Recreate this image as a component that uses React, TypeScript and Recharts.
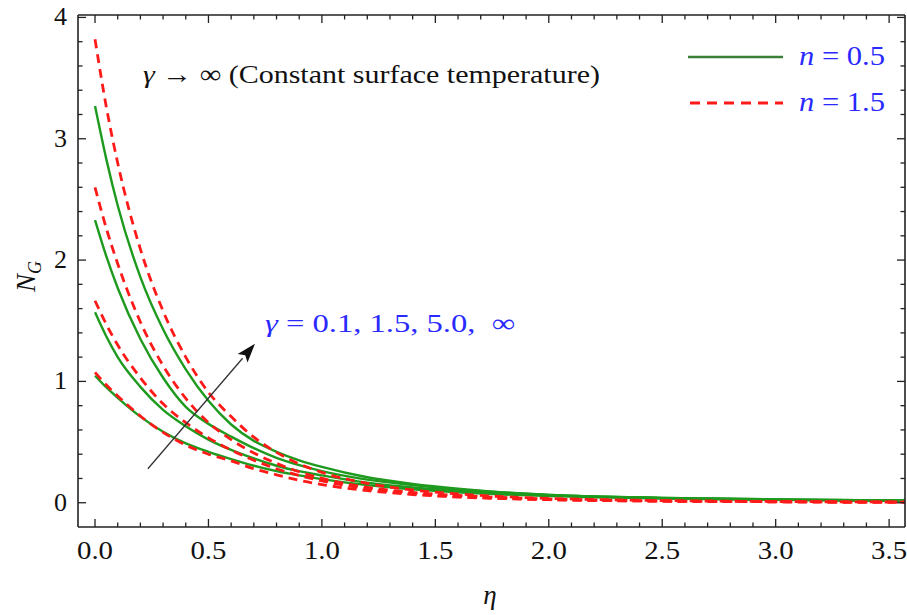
import React from 'react';
import { LineChart, Line, XAxis, YAxis, ReferenceLine } from 'recharts';

const W = 907;
const H = 615;
const FONT = '"Liberation Serif", "Times New Roman", serif';

// η grid
const eta = [0, 0.05, 0.1, 0.2, 0.3, 0.4, 0.5, 0.6, 0.7, 0.8, 0.9, 1.0, 1.2, 1.4, 1.6, 1.8, 2.0, 2.5, 3.0, 3.5, 3.6];

// n = 0.5 (green, solid)
const g01 = [1.047, 0.95, 0.865, 0.71, 0.585, 0.49, 0.42, 0.36, 0.305, 0.26, 0.225, 0.195, 0.145, 0.11, 0.085, 0.068, 0.055, 0.035, 0.024, 0.017, 0.016];
const g15 = [1.57, 1.37, 1.2, 0.955, 0.765, 0.63, 0.52, 0.435, 0.365, 0.305, 0.26, 0.225, 0.165, 0.125, 0.098, 0.078, 0.062, 0.038, 0.026, 0.018, 0.017];
const g50 = [2.33, 2.03, 1.77, 1.35, 1.03, 0.79, 0.65, 0.545, 0.45, 0.37, 0.31, 0.26, 0.19, 0.145, 0.11, 0.085, 0.065, 0.04, 0.027, 0.018, 0.017];
const gInf = [3.27, 2.83, 2.45, 1.86, 1.43, 1.1, 0.84, 0.645, 0.51, 0.42, 0.35, 0.295, 0.21, 0.155, 0.115, 0.085, 0.065, 0.04, 0.027, 0.018, 0.017];

// n = 1.5 (red, dashed)
const r01 = [1.074, 0.97, 0.88, 0.715, 0.58, 0.475, 0.4, 0.345, 0.28, 0.23, 0.185, 0.15, 0.1, 0.068, 0.047, 0.034, 0.025, 0.013, 0.008, 0.005, 0.005];
const r15 = [1.665, 1.47, 1.3, 1.03, 0.815, 0.66, 0.535, 0.435, 0.35, 0.28, 0.225, 0.18, 0.115, 0.075, 0.05, 0.036, 0.026, 0.013, 0.008, 0.005, 0.005];
const r50 = [2.6, 2.26, 1.97, 1.49, 1.13, 0.86, 0.66, 0.52, 0.41, 0.325, 0.255, 0.2, 0.127, 0.085, 0.06, 0.043, 0.031, 0.016, 0.009, 0.005, 0.005];
const rInf = [3.82, 3.26, 2.8, 2.09, 1.58, 1.2, 0.91, 0.71, 0.54, 0.415, 0.32, 0.25, 0.16, 0.105, 0.072, 0.05, 0.036, 0.018, 0.01, 0.006, 0.005];

const xTicks = [0, 0.1, 0.2, 0.3, 0.4, 0.5, 0.6, 0.7, 0.8, 0.9, 1.0, 1.1, 1.2, 1.3, 1.4, 1.5, 1.6, 1.7, 1.8, 1.9, 2.0, 2.1, 2.2, 2.3, 2.4, 2.5, 2.6, 2.7, 2.8, 2.9, 3.0, 3.1, 3.2, 3.3, 3.4, 3.5];
const yTicks = [0, 0.2, 0.4, 0.6, 0.8, 1, 1.2, 1.4, 1.6, 1.8, 2, 2.2, 2.4, 2.6, 2.8, 3, 3.2, 3.4, 3.6, 3.8, 4];

const data = eta.map((e, i) => ({
  eta: e,
  g01: g01[i], g15: g15[i], g50: g50[i], gInf: gInf[i],
  r01: r01[i], r15: r15[i], r50: r50[i], rInf: rInf[i],
}));

const GREEN = '#1e9a1e';
const GREEN_LEG = '#3a803a';
const RED = '#ff1a1a';
const BLUE = '#2a2aff';
const AX = '#222';

const isMajorX = (v: number) => Math.abs(v * 2 - Math.round(v * 2)) < 1e-6;
const isMajorY = (v: number) => Math.abs(v - Math.round(v)) < 1e-6;

const BottomTick = (p: any) => {
  const { x, y, payload } = p;
  const v = payload.value as number;
  const major = isMajorX(v);
  return (
    <g>
      <line x1={x} x2={x} y1={y} y2={y - (major ? 8 : 4.5)} stroke={AX} strokeWidth={1.3} />
      {major && (
        <text
          x={x - 18}
          y={y + 32}
          textLength={36}
          lengthAdjust="spacingAndGlyphs"
          fontFamily={FONT}
          fontSize={26}
          fill="#111"
        >
          {v.toFixed(1)}
        </text>
      )}
    </g>
  );
};

const TopTick = (p: any) => {
  const { x, y, payload } = p;
  const major = isMajorX(payload.value);
  return <line x1={x} x2={x} y1={y} y2={y + (major ? 8 : 4.5)} stroke={AX} strokeWidth={1.3} />;
};

const LeftTick = (p: any) => {
  const { x, y, payload } = p;
  const v = payload.value as number;
  const major = isMajorY(v);
  return (
    <g>
      <line x1={x} x2={x + (major ? 8 : 4.5)} y1={y} y2={y} stroke={AX} strokeWidth={1.3} />
      {major && (
        <text x={x - 11} y={y + 8} textAnchor="end" fontFamily={FONT} fontSize={26} fill="#111">
          {String(v)}
        </text>
      )}
    </g>
  );
};

const RightTick = (p: any) => {
  const { x, y, payload } = p;
  const major = isMajorY(payload.value);
  return <line x1={x} x2={x - (major ? 8 : 4.5)} y1={y} y2={y} stroke={AX} strokeWidth={1.3} />;
};

const ArrowShape = (p: any) => {
  const { x1, y1, x2, y2 } = p;
  const dx = x2 - x1;
  const dy = y2 - y1;
  const len = Math.sqrt(dx * dx + dy * dy);
  const ux = dx / len;
  const uy = dy / len;
  const hl = 19;
  const hw = 6.5;
  const bx = x2 - ux * hl;
  const by = y2 - uy * hl;
  const px = -uy;
  const py = ux;
  return (
    <g>
      <line x1={x1} y1={y1} x2={bx} y2={by} stroke="#333" strokeWidth={1.3} />
      <path
        d={`M${x2},${y2} L${bx + px * hw},${by + py * hw} L${bx + ux * 4},${by + uy * 4} L${bx - px * hw},${by - py * hw} Z`}
        fill="#111"
      />
    </g>
  );
};

const lineCommon = {
  xAxisId: 'b',
  yAxisId: 'l',
  type: 'monotone' as const,
  dot: false,
  activeDot: false,
  isAnimationActive: false,
};

export default function App() {
  return (
    <div style={{ position: 'absolute', left: 0, top: 0, width: W, height: H, background: '#fff' }}>
      <LineChart width={W} height={H} data={data} margin={{ top: 0, right: 0, bottom: 0, left: 0 }}>
        <XAxis
          xAxisId="b"
          dataKey="eta"
          type="number"
          orientation="bottom"
          domain={[-0.075, 3.57]}
          allowDataOverflow
          ticks={xTicks}
          interval={0}
          height={88}
          tickSize={0}
          tickMargin={0}
          tickLine={false}
          tick={BottomTick}
          axisLine={{ stroke: AX, strokeWidth: 1.6 }}
        />
        <XAxis
          xAxisId="t"
          dataKey="eta"
          type="number"
          orientation="top"
          domain={[-0.075, 3.57]}
          allowDataOverflow
          ticks={xTicks}
          interval={0}
          height={15}
          tickSize={0}
          tickMargin={0}
          tickLine={false}
          tick={TopTick}
          axisLine={{ stroke: AX, strokeWidth: 1.6 }}
        />
        <YAxis
          yAxisId="l"
          type="number"
          orientation="left"
          domain={[-0.2, 4.02]}
          allowDataOverflow
          ticks={yTicks}
          interval={0}
          width={78}
          tickSize={0}
          tickMargin={0}
          tickLine={false}
          tick={LeftTick}
          axisLine={{ stroke: AX, strokeWidth: 1.6 }}
        />
        <YAxis
          yAxisId="r"
          type="number"
          orientation="right"
          domain={[-0.2, 4.02]}
          allowDataOverflow
          ticks={yTicks}
          interval={0}
          width={2}
          tickSize={0}
          tickMargin={0}
          tickLine={false}
          tick={RightTick}
          axisLine={{ stroke: AX, strokeWidth: 1.6 }}
        />
        <Line {...lineCommon} dataKey="g01" stroke={GREEN} strokeWidth={2.4} />
        <Line {...lineCommon} dataKey="g15" stroke={GREEN} strokeWidth={2.4} />
        <Line {...lineCommon} dataKey="g50" stroke={GREEN} strokeWidth={2.4} />
        <Line {...lineCommon} dataKey="gInf" stroke={GREEN} strokeWidth={2.4} />
        <Line {...lineCommon} dataKey="r01" stroke={RED} strokeWidth={2.8} strokeDasharray="9 6" />
        <Line {...lineCommon} dataKey="r15" stroke={RED} strokeWidth={2.8} strokeDasharray="9 6" />
        <Line {...lineCommon} dataKey="r50" stroke={RED} strokeWidth={2.8} strokeDasharray="9 6" />
        <Line {...lineCommon} dataKey="rInf" stroke={RED} strokeWidth={2.8} strokeDasharray="9 6" />
        <ReferenceLine
          xAxisId="b"
          yAxisId="l"
          segment={[{ x: 0.233, y: 0.28 }, { x: 0.705, y: 1.31 }]}
          shape={ArrowShape}
          ifOverflow="visible"
        />
      </LineChart>
      <svg
        width={W}
        height={H}
        style={{ position: 'absolute', left: 0, top: 0, pointerEvents: 'none' }}
      >
        {/* legend */}
        <line x1={688} x2={783} y1={57} y2={57} stroke={GREEN_LEG} strokeWidth={2.6} />
        <text x={799} y={65} textLength={86} lengthAdjust="spacingAndGlyphs" fontFamily={FONT} fontSize={27} fill={BLUE}>
          <tspan fontStyle="italic">n</tspan> = 0.5
        </text>
        <line x1={690} x2={783} y1={103} y2={103} stroke={RED} strokeWidth={2.8} strokeDasharray="10 7" />
        <text x={799} y={111} textLength={86} lengthAdjust="spacingAndGlyphs" fontFamily={FONT} fontSize={27} fill={BLUE}>
          <tspan fontStyle="italic">n</tspan> = 1.5
        </text>
        {/* annotations */}
        <text x={143} y={83} textLength={457} lengthAdjust="spacingAndGlyphs" fontFamily={FONT} fontSize={26} fill="#111">
          <tspan fontStyle="italic">γ</tspan> → ∞ (Constant surface temperature)
        </text>
        <text
          x={265}
          y={332}
          textLength={250}
          lengthAdjust="spacingAndGlyphs"
          fontFamily={FONT}
          fontSize={26}
          fill={BLUE}
          style={{ whiteSpace: 'pre' }}
        >
          <tspan fontStyle="italic">γ</tspan> = 0.1, 1.5, 5.0,  ∞
        </text>
        {/* axis labels */}
        <text x={490} y={604} textAnchor="middle" fontFamily={FONT} fontSize={27} fontStyle="italic" fill="#111">
          η
        </text>
        <text transform="translate(35,292) rotate(-90)" fontFamily={FONT} fontSize={27} fontStyle="italic" fill="#111">
          N<tspan fontSize={18} dy={6}>G</tspan>
        </text>
      </svg>
    </div>
  );
}
